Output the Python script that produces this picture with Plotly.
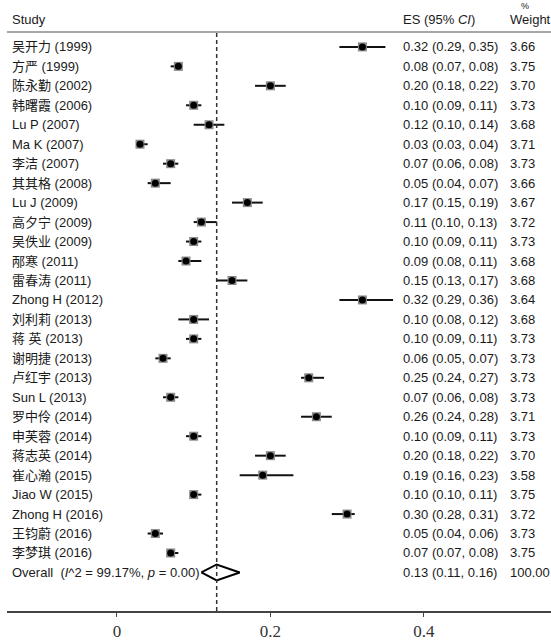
import plotly.graph_objects as go

studies = ["吴开力 (1999)", "方严 (1999)", "陈永勤 (2002)", "韩曙霞 (2006)", "Lu P (2007)",
           "Ma K (2007)", "李洁 (2007)", "其其格 (2008)", "Lu J (2009)", "高夕宁 (2009)",
           "吴佚业 (2009)", "邴寒 (2011)", "雷春涛 (2011)", "Zhong H (2012)", "刘利莉 (2013)",
           "蒋 英 (2013)", "谢明捷 (2013)", "卢红宇 (2013)", "Sun L (2013)", "罗中伶 (2014)",
           "申芙蓉 (2014)", "蒋志英 (2014)", "崔心瀚 (2015)", "Jiao W (2015)", "Zhong H (2016)",
           "王钧蔚 (2016)", "李梦琪 (2016)"]
es = [0.32, 0.08, 0.20, 0.10, 0.12, 0.03, 0.07, 0.05, 0.17, 0.11, 0.10, 0.09, 0.15, 0.32,
      0.10, 0.10, 0.06, 0.25, 0.07, 0.26, 0.10, 0.20, 0.19, 0.10, 0.30, 0.05, 0.07]
lo = [0.29, 0.07, 0.18, 0.09, 0.10, 0.03, 0.06, 0.04, 0.15, 0.10, 0.09, 0.08, 0.13, 0.29,
      0.08, 0.09, 0.05, 0.24, 0.06, 0.24, 0.09, 0.18, 0.16, 0.10, 0.28, 0.04, 0.07]
hi = [0.35, 0.08, 0.22, 0.11, 0.14, 0.04, 0.08, 0.07, 0.19, 0.13, 0.11, 0.11, 0.17, 0.36,
      0.12, 0.11, 0.07, 0.27, 0.08, 0.28, 0.11, 0.22, 0.23, 0.11, 0.31, 0.06, 0.08]
weights = [3.66, 3.75, 3.70, 3.73, 3.68, 3.71, 3.73, 3.66, 3.67, 3.72, 3.73, 3.68, 3.68, 3.64,
           3.68, 3.73, 3.73, 3.73, 3.73, 3.71, 3.73, 3.70, 3.58, 3.75, 3.72, 3.73, 3.75]
overall_label = "Overall  (<i>I</i>^2 = 99.17%, <i>p</i> = 0.00)"
overall_es, overall_lo, overall_hi, overall_w = 0.13, 0.11, 0.16, 100.00
tick_vals = [0, 0.2, 0.4]
tick_text = ["0", "0.2", "0.4"]

SANS = "Liberation Sans, Arial, Noto Sans CJK SC, sans-serif"
FS = 13
n = len(studies)
rows = list(range(n))
overall_row = n

fig = go.Figure()

# Study estimates with CIs
fig.add_trace(go.Scatter(
    x=es, y=rows, mode="markers",
    marker=dict(symbol="square", size=9, color="#888888", line=dict(width=0)),
    error_x=dict(type="data", symmetric=False,
                 array=[h - e for h, e in zip(hi, es)],
                 arrayminus=[e - l for e, l in zip(es, lo)],
                 thickness=2, width=0, color="#111111"),
    hoverinfo="skip", showlegend=False))
fig.add_trace(go.Scatter(
    x=es, y=rows, mode="markers",
    marker=dict(symbol="circle", size=7, color="#000000"),
    hoverinfo="skip", showlegend=False))

# Overall diamond
dh = 0.41
fig.add_trace(go.Scatter(
    x=[overall_lo, overall_es, overall_hi, overall_es, overall_lo],
    y=[overall_row, overall_row - dh, overall_row, overall_row + dh, overall_row],
    mode="lines", fill="toself", fillcolor="white",
    line=dict(color="#000000", width=2), hoverinfo="skip", showlegend=False))

# Dashed overall line
fig.add_shape(type="line", xref="x", yref="paper", x0=overall_es, x1=overall_es, y0=0, y1=1,
              line=dict(color="#333333", width=1.5, dash="4px,3px"))
# Header rule
fig.add_shape(type="line", xref="paper", yref="paper", x0=0, x1=1, y0=1, y1=1,
              line=dict(color="#8a8a8a", width=1.5))

x_study, x_es, x_w = 0.0055, 0.724, 0.921
ann = []
for i in rows:
    ann.append(dict(x=x_study, y=i, text=studies[i]))
    ann.append(dict(x=x_es, y=i, text=f"{es[i]:.2f} ({lo[i]:.2f}, {hi[i]:.2f})"))
    ann.append(dict(x=x_w, y=i, text=f"{weights[i]:.2f}"))
ann.append(dict(x=x_study, y=overall_row, text=overall_label))
ann.append(dict(x=x_es, y=overall_row,
                text=f"{overall_es:.2f} ({overall_lo:.2f}, {overall_hi:.2f})"))
ann.append(dict(x=x_w, y=overall_row, text=f"{overall_w:.2f}"))
for a in ann:
    a.update(xref="paper", yref="y", xanchor="left", yanchor="middle", showarrow=False,
             font=dict(family=SANS, size=FS, color="#1a1a1a"))

hdr_y = 1 + 13 / 583
for x, t in [(x_study, "Study"), (x_es, "ES (95% <i>CI</i>)"), (x_w, "Weight")]:
    ann.append(dict(x=x, y=hdr_y, xref="paper", yref="paper", text=t, xanchor="left",
                    yanchor="middle", showarrow=False,
                    font=dict(family=SANS, size=FS, color="#1a1a1a")))
ann.append(dict(x=0.942, y=1 + 26 / 583, xref="paper", yref="paper", text="%",
                xanchor="left", yanchor="middle", showarrow=False,
                font=dict(family=SANS, size=9, color="#1a1a1a")))

fig.update_layout(
    width=551, height=641,
    margin=dict(l=7, r=0, t=32, b=26),
    paper_bgcolor="white", plot_bgcolor="white",
    annotations=ann,
    xaxis=dict(range=[-0.1434, 0.5659], tickvals=tick_vals, ticktext=tick_text,
               showgrid=False, zeroline=False, showline=True, linecolor="#444444",
               linewidth=2, ticks="outside", ticklen=4, tickcolor="#444444",
               tickfont=dict(family="Liberation Serif, Times New Roman, serif", size=17,
                             color="#333333"), fixedrange=True),
    yaxis=dict(range=[28.98, -0.765], showgrid=False, zeroline=False, showline=False,
               showticklabels=False, ticks="", fixedrange=True),
)

fig.write_html("out.html")
